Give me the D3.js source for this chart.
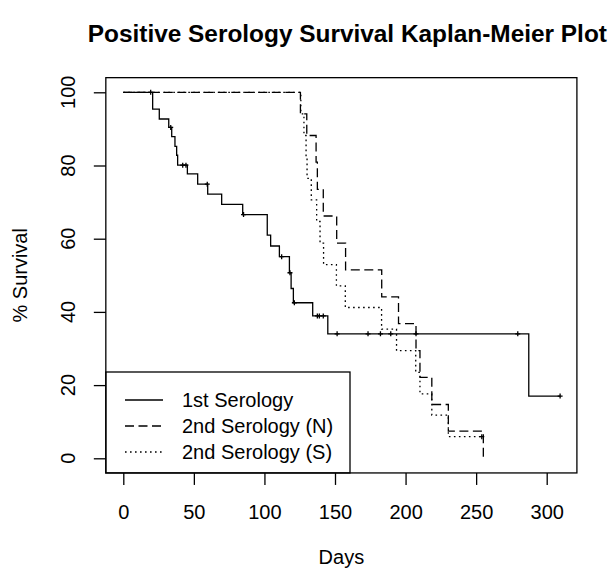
<!DOCTYPE html>
<html>
<head>
<meta charset="utf-8">
<title>Positive Serology Survival Kaplan-Meier Plot</title>
<script src="https://cdn.jsdelivr.net/npm/d3@7"></script>
<style>
  body { margin: 0; background: #fff; }
  svg text { font-family: "Liberation Sans", Arial, Helvetica, sans-serif; fill: #000; }
</style>
</head>
<body>
<script>
// step times (days) and survival (%)
var sero1Times = [20.8, 25.5, 32.2, 34.3, 36.6, 37.8, 38.5, 45.4, 52.7, 59.8, 69.7, 84.6, 102, 104.4, 110.6, 117.7, 118.9, 120.5, 134.2, 144.9, 287.3];
var sero1Surv  = [95.4, 92.7, 90.4, 87.9, 85.2, 82.8, 80.1, 77.7, 74.9, 72.2, 69.4, 66.6, 61.0, 58.0, 55.1, 50.7, 46.4, 42.5, 38.9, 34.0, 17.0];
var sero1Censor = [19.4, 33.6, 42.1, 44.4, 59.5, 85.2, 112.2, 118.1, 121.2, 137.5, 138.9, 141.7, 151.5, 173.4, 182.2, 189.5, 207.4, 279.5, 309.5];

var sero2NTimes = [125.5, 130, 136.6, 137.5, 141.7, 151.2, 157.5, 183.1, 195, 207.4, 210.2, 218.6, 230.3, 255.1];
var sero2NSurv  = [94.1, 88.2, 80.9, 73.5, 66.2, 58.8, 51.5, 44.1, 36.8, 29.4, 22.1, 14.7, 7.4, 0];
var sero2NCensor = [];

var sero2STimes = [125.8, 128, 129.5, 130.2, 133.2, 137, 139.4, 141.9, 151, 157.3, 183, 193.6, 207.2, 210.2, 218.6, 230.3];
var sero2SSurv  = [94.1, 88.2, 82.4, 76.5, 70.6, 64.7, 58.8, 52.9, 47.1, 41.2, 35.3, 29.4, 23.5, 17.6, 11.8, 5.9];
var sero2SCensor = [254];

var xTicks = [0, 50, 100, 150, 200, 250, 300];
var yTicks = [0, 20, 40, 60, 80, 100];
var legendLabels = ["1st Serology", "2nd Serology (N)", "2nd Serology (S)"];
var dashes = [null, "9,4.5", "1.6,3.4"];

var width = 611, height = 570;
var svg = d3.select("body").append("svg")
    .attr("width", width)
    .attr("height", height);

var x = d3.scaleLinear().domain([0, 300]).range([123.3, 546.7]);
var y = d3.scaleLinear().domain([0, 100]).range([458.3, 92.3]);

// R style 4% padding on both axes
var plotLeft = x(-12.38), plotRight = x(321.4), plotTop = y(104), plotBottom = y(-4);

svg.append("text")
    .attr("x", (plotLeft + plotRight) / 2 + 6)
    .attr("y", 42)
    .attr("text-anchor", "middle")
    .style("font-size", "24.4px")
    .style("font-weight", "bold")
    .text("Positive Serology Survival Kaplan-Meier Plot");

// axes
var xAxis = svg.append("g")
    .attr("transform", "translate(0," + plotBottom + ")")
    .call(d3.axisBottom(x).tickValues(xTicks).tickSize(12).tickPadding(20).tickSizeOuter(0));
xAxis.selectAll("text").style("font-size", "20px");

var yAxis = svg.append("g")
    .attr("transform", "translate(" + plotLeft + ",0)")
    .call(d3.axisLeft(y).tickValues(yTicks).tickSize(12).tickFormat("").tickSizeOuter(0));

[xAxis, yAxis].forEach(function (g) {
    g.selectAll("line, path").attr("stroke", "#000").attr("stroke-width", 1.3);
    g.select(".domain").remove();
});

svg.selectAll(".ylab").data(yTicks).enter().append("text")
    .attr("class", "ylab")
    .attr("transform", function (d) { return "translate(68," + y(d) + ") rotate(-90)"; })
    .attr("text-anchor", "middle")
    .attr("dy", "0.35em")
    .style("font-size", "20px")
    .text(function (d) { return d; });

svg.append("text")
    .attr("x", (plotLeft + plotRight) / 2)
    .attr("y", 564)
    .attr("text-anchor", "middle")
    .style("font-size", "20px")
    .text("Days");

svg.append("text")
    .attr("transform", "translate(27," + (plotTop + plotBottom) / 2 + ") rotate(-90)")
    .attr("text-anchor", "middle")
    .style("font-size", "20px")
    .text("% Survival");

// survival curves
var line = d3.line()
    .x(function (d) { return x(d[0]); })
    .y(function (d) { return y(d[1]); })
    .curve(d3.curveStepAfter);

function drawCurve(times, surv, censor, dash) {
    var pts = [[0, 100]];
    times.forEach(function (t, i) { pts.push([t, surv[i]]); });
    var lastT = d3.max(times.concat(censor));
    pts.push([lastT, surv[surv.length - 1]]);

    svg.append("path")
        .attr("d", line(pts))
        .attr("fill", "none")
        .attr("stroke", "#000")
        .attr("stroke-width", 1.3)
        .attr("stroke-dasharray", dash);

    function survAt(t) {
        var s = 100;
        times.forEach(function (tt, i) { if (tt <= t) s = surv[i]; });
        return s;
    }
    svg.selectAll(null).data(censor).enter().append("path")
        .attr("d", function (t) {
            var cx = x(t), cy = y(survAt(t));
            return "M" + (cx - 2.5) + "," + cy + "H" + (cx + 2.5) + "M" + cx + "," + (cy - 2.5) + "V" + (cy + 2.5);
        })
        .attr("stroke", "#000")
        .attr("stroke-width", 1.3);
}

drawCurve(sero1Times, sero1Surv, sero1Censor, dashes[0]);
drawCurve(sero2NTimes, sero2NSurv, sero2NCensor, dashes[1]);
drawCurve(sero2STimes, sero2SSurv, sero2SCensor, dashes[2]);

// legend
var legTop = 372, legRight = 350;
svg.append("rect")
    .attr("x", plotLeft)
    .attr("y", legTop)
    .attr("width", legRight - plotLeft)
    .attr("height", plotBottom - legTop)
    .attr("fill", "#fff")
    .attr("stroke", "#000")
    .attr("stroke-width", 1.3);

var leg = svg.selectAll(".leg").data(legendLabels).enter().append("g")
    .attr("class", "leg")
    .attr("transform", function (d, i) { return "translate(0," + (400 + i * 26) + ")"; });
leg.append("line")
    .attr("x1", 125).attr("x2", 163)
    .attr("stroke", "#000")
    .attr("stroke-width", 1.3)
    .attr("stroke-dasharray", function (d, i) { return dashes[i]; });
leg.append("text")
    .attr("x", 182)
    .attr("dy", "0.35em")
    .style("font-size", "20px")
    .text(function (d) { return d; });

// plot box
svg.append("rect")
    .attr("x", plotLeft)
    .attr("y", plotTop)
    .attr("width", plotRight - plotLeft)
    .attr("height", plotBottom - plotTop)
    .attr("fill", "none")
    .attr("stroke", "#000")
    .attr("stroke-width", 1.3);
</script>
</body>
</html>
